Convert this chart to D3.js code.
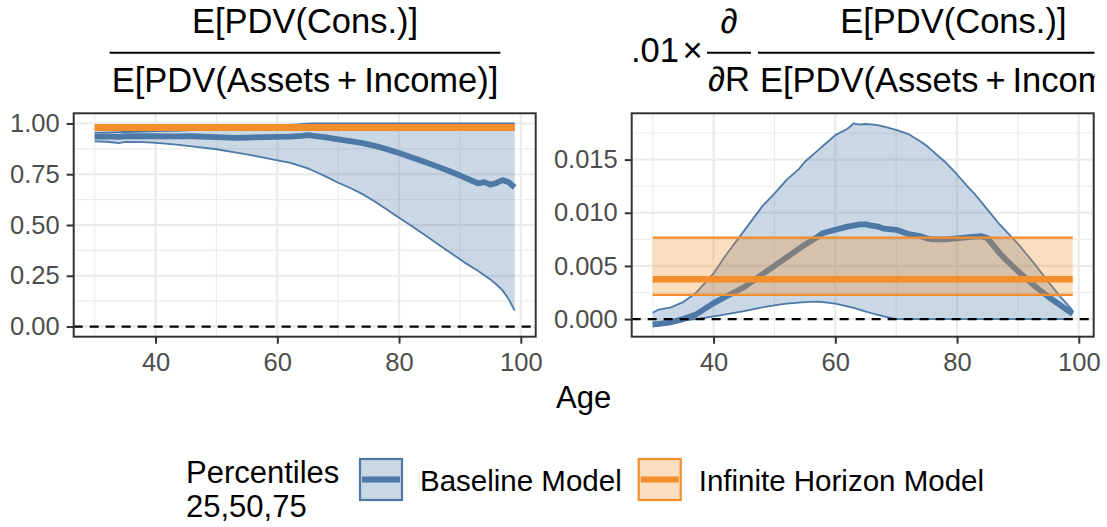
<!DOCTYPE html>
<html>
<head>
<meta charset="utf-8">
<script src="https://cdn.jsdelivr.net/npm/d3@7"></script>
<style>
  html, body { margin: 0; padding: 0; background: #ffffff; }
  svg { display: block; font-family: "Liberation Sans", Arial, Helvetica, sans-serif; }
</style>
</head>
<body>
<svg id="chart" width="1107" height="527"></svg>
<script>
// ---------------- data ----------------
// Left panel: E[PDV(Cons.)] / E[PDV(Assets + Income)] by age, baseline model percentiles
const ratioAges   = [30, 32, 34, 35, 38, 40, 43, 46, 50, 53, 55, 58, 60, 62, 64, 65, 66, 68, 70, 72, 74, 76, 78, 80, 82, 84, 86, 88, 90, 91, 92, 93, 94, 95, 96, 97, 98, 99];
const ratioBaseP25 = [0.912, 0.910, 0.903, 0.909, 0.908, 0.904, 0.897, 0.887, 0.873, 0.858, 0.848, 0.830, 0.818, 0.807, 0.789, 0.779, 0.766, 0.738, 0.708, 0.682, 0.652, 0.616, 0.576, 0.536, 0.496, 0.456, 0.414, 0.372, 0.331, 0.311, 0.292, 0.273, 0.253, 0.232, 0.207, 0.178, 0.136, 0.078];
const ratioBaseP50 = [0.935, 0.936, 0.934, 0.937, 0.938, 0.937, 0.936, 0.937, 0.933, 0.929, 0.930, 0.933, 0.934, 0.935, 0.939, 0.942, 0.939, 0.931, 0.922, 0.913, 0.903, 0.890, 0.873, 0.854, 0.834, 0.813, 0.791, 0.768, 0.744, 0.731, 0.718, 0.705, 0.711, 0.699, 0.707, 0.721, 0.711, 0.685];
const ratioBaseP75 = [0.955, 0.956, 0.957, 0.958, 0.960, 0.962, 0.964, 0.967, 0.971, 0.975, 0.978, 0.984, 0.989, 0.993, 0.997, 0.999, 1.000, 1.000, 1.000, 1.000, 1.000, 1.000, 1.000, 1.000, 1.000, 1.000, 1.000, 1.000, 1.000, 1.000, 1.000, 1.000, 1.000, 1.000, 1.000, 1.000, 1.000, 1.000];

// Right panel: .01 x derivative of that ratio with respect to R, baseline model percentiles
const derivAges    = [30, 31, 33, 35, 37, 40, 42, 45, 48, 50, 52, 54, 55, 57, 58, 60, 62, 63, 64, 65, 66, 67, 68, 70, 72, 74, 75, 76, 78, 80, 82, 83, 84, 85, 87, 88, 90, 93, 95, 97, 99];
const derivBaseP25 = [-0.00070, -0.00060, -0.00040, -0.00015, 0.00000, 0.00025, 0.00045, 0.00075, 0.00110, 0.00130, 0.00145, 0.00155, 0.00160, 0.00165, 0.00160, 0.00145, 0.00120, 0.00105, 0.00090, 0.00070, 0.00055, 0.00040, 0.00025, 0.00000, 0.00000, 0.00000, 0.00000, 0.00000, 0.00000, 0.00000, 0.00000, 0.00000, 0.00000, 0.00000, 0.00000, 0.00000, 0.00000, 0.00000, 0.00000, 0.00000, 0.00000];
const derivBaseP50 = [-0.00050, -0.00045, -0.00030, 0.00000, 0.00040, 0.00150, 0.00210, 0.00300, 0.00420, 0.00500, 0.00580, 0.00660, 0.00700, 0.00770, 0.00810, 0.00840, 0.00870, 0.00880, 0.00890, 0.00890, 0.00880, 0.00870, 0.00850, 0.00840, 0.00800, 0.00780, 0.00760, 0.00750, 0.00750, 0.00760, 0.00770, 0.00775, 0.00780, 0.00760, 0.00620, 0.00560, 0.00450, 0.00300, 0.00210, 0.00130, 0.00050];
const derivBaseP75 = [0.00060, 0.00090, 0.00110, 0.00160, 0.00240, 0.00430, 0.00600, 0.00830, 0.01060, 0.01180, 0.01310, 0.01410, 0.01480, 0.01580, 0.01630, 0.01730, 0.01790, 0.01840, 0.01830, 0.01835, 0.01830, 0.01825, 0.01810, 0.01780, 0.01740, 0.01670, 0.01630, 0.01580, 0.01480, 0.01360, 0.01230, 0.01170, 0.01100, 0.01030, 0.00890, 0.00830, 0.00710, 0.00500, 0.00350, 0.00210, 0.00080];

// Infinite horizon model: flat percentiles (25, 50, 75) over the same age span
const infAgeSpan = [30, 99];
const ratioInfPct = [0.968, 0.979, 0.992];
const derivInfPct = [0.00228, 0.00375, 0.00767];

// Axis breaks and labels
const ageTicks = [40, 60, 80, 100];
const ageMinor = [30, 50, 70, 90];
const ratioTicks = [0, 0.25, 0.5, 0.75, 1];
const ratioMinor = [0.125, 0.375, 0.625, 0.875];
const derivTicks = [0, 0.005, 0.010, 0.015];
const derivMinor = [0.0025, 0.0075, 0.0125, 0.0175];
const modelNames = ["Baseline Model", "Infinite Horizon Model"];
const legendTitle = ["Percentiles", "25,50,75"];
const xTitle = "Age";

// ---------------- drawing ----------------
const BLUE = "#4E79A7", ORANGE = "#F28E2B";
const svg = d3.select("#chart");
svg.append("rect").attr("width", 1107).attr("height", 527).attr("fill", "#ffffff");

const expand = ([a, b]) => { const d = (b - a) * 0.05; return [a - d, b + d]; };

const panels = [
  { box: { x0: 73.7, x1: 535.7, y0: 113.3, y1: 336.7 },
    ages: ratioAges, base: [ratioBaseP25, ratioBaseP50, ratioBaseP75], inf: ratioInfPct,
    yTicks: ratioTicks, yMinor: ratioMinor, fmt: d3.format(".2f") },
  { box: { x0: 631.7, x1: 1093.7, y0: 113.3, y1: 336.7 },
    ages: derivAges, base: [derivBaseP25, derivBaseP50, derivBaseP75], inf: derivInfPct,
    yTicks: derivTicks, yMinor: derivMinor, fmt: d3.format(".3f") }
];

panels.forEach(p => {
  const b = p.box;
  const allAges = p.ages.concat(infAgeSpan);
  const allVals = [].concat(...p.base, p.inf, [0]);
  const x = d3.scaleLinear().domain(expand(d3.extent(allAges))).range([b.x0, b.x1]);
  const y = d3.scaleLinear().domain(expand(d3.extent(allVals))).range([b.y1, b.y0]);
  const g = svg.append("g");

  // grid
  const grid = g.append("g").attr("stroke", "#EBEBEB").attr("fill", "none");
  ageMinor.forEach(v => grid.append("line").attr("x1", x(v)).attr("x2", x(v)).attr("y1", b.y0).attr("y2", b.y1).attr("stroke-width", 1.1));
  p.yMinor.forEach(v => grid.append("line").attr("y1", y(v)).attr("y2", y(v)).attr("x1", b.x0).attr("x2", b.x1).attr("stroke-width", 1.1));
  ageTicks.filter(v => x(v) <= b.x1).forEach(v => grid.append("line").attr("x1", x(v)).attr("x2", x(v)).attr("y1", b.y0).attr("y2", b.y1).attr("stroke-width", 2.2));
  p.yTicks.forEach(v => grid.append("line").attr("y1", y(v)).attr("y2", y(v)).attr("x1", b.x0).attr("x2", b.x1).attr("stroke-width", 2.2));

  // baseline model: ribbon (25-75) and three percentile lines
  const rows = p.ages.map((a, i) => ({ age: a, lo: p.base[0][i], mid: p.base[1][i], hi: p.base[2][i] }));
  const area = d3.area().x(d => x(d.age)).y0(d => y(d.lo)).y1(d => y(d.hi));
  g.append("path").datum(rows).attr("d", area).attr("fill", BLUE).attr("fill-opacity", 0.3);
  const lineOf = key => d3.line().x(d => x(d.age)).y(d => y(d[key]));
  ["lo", "hi"].forEach(k => g.append("path").datum(rows).attr("d", lineOf(k))
    .attr("fill", "none").attr("stroke", BLUE).attr("stroke-width", 1.8).attr("stroke-linejoin", "round"));
  g.append("path").datum(rows).attr("d", lineOf("mid"))
    .attr("fill", "none").attr("stroke", BLUE).attr("stroke-width", 5.8)
    .attr("stroke-linejoin", "round").attr("stroke-linecap", "butt");

  // infinite horizon model: flat ribbon and lines
  const infRows = infAgeSpan.map(a => ({ age: a, lo: p.inf[0], mid: p.inf[1], hi: p.inf[2] }));
  g.append("path").datum(infRows).attr("d", area).attr("fill", ORANGE).attr("fill-opacity", 0.3);
  ["lo", "hi"].forEach(k => g.append("path").datum(infRows).attr("d", lineOf(k))
    .attr("fill", "none").attr("stroke", ORANGE).attr("stroke-width", 2.2));
  g.append("path").datum(infRows).attr("d", lineOf("mid"))
    .attr("fill", "none").attr("stroke", ORANGE).attr("stroke-width", 6.5);

  // zero reference
  g.append("line").attr("x1", b.x0).attr("x2", b.x1).attr("y1", y(0)).attr("y2", y(0))
    .attr("stroke", "#000").attr("stroke-width", 2.2).attr("stroke-dasharray", "9,7");

  // panel border
  g.append("rect").attr("x", b.x0).attr("y", b.y0).attr("width", b.x1 - b.x0).attr("height", b.y1 - b.y0)
    .attr("fill", "none").attr("stroke", "#333333").attr("stroke-width", 2);

  // axes
  const ax = g.append("g").attr("transform", `translate(0,${b.y1})`)
    .call(d3.axisBottom(x).tickValues(ageTicks).tickSize(7).tickPadding(9).tickFormat(d3.format("d")));
  const ay = g.append("g").attr("transform", `translate(${b.x0},0)`)
    .call(d3.axisLeft(y).tickValues(p.yTicks).tickSize(7).tickPadding(7).tickFormat(p.fmt));
  [ax, ay].forEach(a => {
    a.select(".domain").remove();
    a.selectAll(".tick line").attr("stroke", "#333333").attr("stroke-width", 2);
    a.selectAll(".tick text").attr("fill", "#4D4D4D").style("font-size", "25.5px")
      .style("font-family", "'Liberation Sans', Arial, sans-serif");
  });
});

// x axis title
svg.append("text").attr("x", 583.7).attr("y", 397).attr("text-anchor", "middle")
  .attr("dominant-baseline", "central").style("font-size", "31px").attr("fill", "#000").text(xTitle);

// ---------------- panel titles (fractions) ----------------
const TFS = "34.5px";
const numer = "E[PDV(Cons.)]";
const denom = "E[PDV(Assets\u2009+\u2009Income)]";

// left title
{
  const cx = 305;
  const t = svg.append("g").style("font-size", TFS).attr("fill", "#000");
  const d = t.append("text").attr("x", cx).attr("y", 92).attr("text-anchor", "middle").text(denom);
  const w = d.node().getComputedTextLength();
  t.append("text").attr("x", cx).attr("y", 33).attr("text-anchor", "middle").text(numer);
  t.append("line").attr("x1", cx - w / 2 - 2).attr("x2", cx + w / 2 + 2).attr("y1", 52.7).attr("y2", 52.7)
    .attr("stroke", "#000").attr("stroke-width", 2);
}

// right title, clipped at the panel's right edge
{
  svg.append("defs").append("clipPath").attr("id", "rtclip")
    .append("rect").attr("x", 560).attr("y", 0).attr("width", 1094.5 - 560).attr("height", 110);
  const t = svg.append("g").attr("clip-path", "url(#rtclip)").style("font-size", TFS).attr("fill", "#000");
  t.append("text").attr("x", 631).attr("y", 62).text(".01");
  t.append("text").attr("x", 692.5).attr("y", 62).attr("text-anchor", "middle").text("\u00D7");
  t.append("line").attr("x1", 707).attr("x2", 751).attr("y1", 52.7).attr("y2", 52.7).attr("stroke", "#000").attr("stroke-width", 2);
  t.append("text").attr("x", 729).attr("y", 33).attr("text-anchor", "middle").text("\u2202");
  t.append("text").attr("x", 729).attr("y", 91).attr("text-anchor", "middle").text("\u2202R");
  const x0 = 758;
  const d = t.append("text").attr("x", x0 + 2).attr("y", 92).text(denom);
  const w = d.node().getComputedTextLength();
  t.append("line").attr("x1", x0).attr("x2", x0 + w + 4).attr("y1", 52.7).attr("y2", 52.7).attr("stroke", "#000").attr("stroke-width", 2);
  t.append("text").attr("x", x0 + (w + 4) / 2).attr("y", 33).attr("text-anchor", "middle").text(numer);
}

// ---------------- legend ----------------
const lg = svg.append("g");
lg.append("text").attr("x", 186).attr("y", 472).attr("dominant-baseline", "central")
  .style("font-size", "31px").text(legendTitle[0]);
lg.append("text").attr("x", 186).attr("y", 506).attr("dominant-baseline", "central")
  .style("font-size", "31px").text(legendTitle[1]);
const keyX = [359, 637.7];
[BLUE, ORANGE].forEach((c, i) => {
  const kx = keyX[i], ky = 458, kw = 44, kh = 43;
  lg.append("rect").attr("x", kx + 1).attr("y", ky + 1).attr("width", kw - 2).attr("height", kh - 2)
    .attr("fill", c).attr("fill-opacity", 0.3).attr("stroke", c).attr("stroke-width", 2.2);
  lg.append("line").attr("x1", kx + 3).attr("x2", kx + kw - 3).attr("y1", ky + kh / 2).attr("y2", ky + kh / 2)
    .attr("stroke", c).attr("stroke-width", 6);
  lg.append("text").attr("x", kx + kw + 17).attr("y", 480).attr("dominant-baseline", "central")
    .style("font-size", "29.5px").text(modelNames[i]);
});
</script>
</body>
</html>
